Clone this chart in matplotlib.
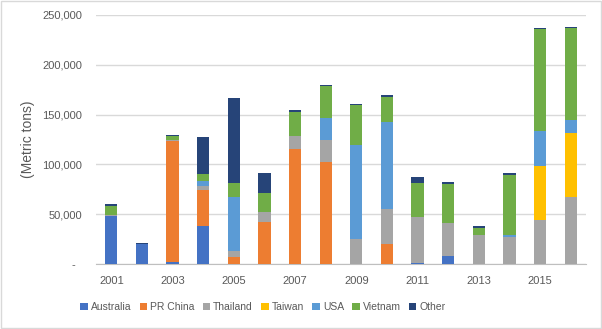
import matplotlib

matplotlib.use("Agg")

import matplotlib.pyplot as plt
import numpy as np
from matplotlib.patches import Patch

plt.rcParams["font.family"] = ["Liberation Sans", "DejaVu Sans"]

years = list(range(2001, 2017))
australia = [48500, 20500, 2500, 38000, 0, 0, 0, 0, 0, 0, 1500, 8000, 0, 0, 0, 0]
pr_china = [0, 0, 120500, 36600, 6700, 42200, 115100, 102400, 0, 20400, 0, 0, 0, 0, 0, 0]
thailand = [500, 0, 1000, 4000, 6300, 10300, 13400, 22100, 25400, 34500, 45700, 33500, 29400, 26800, 44200, 67300]
taiwan = [0, 0, 0, 0, 0, 0, 0, 0, 0, 0, 0, 0, 0, 0, 54500, 64500]
usa = [0, 0, 0, 5000, 54300, 0, 0, 22100, 93800, 87400, 0, 0, 0, 2600, 35100, 12800]
vietnam = [9500, 0, 4700, 6800, 14300, 18800, 24100, 31800, 40400, 25700, 34400, 39100, 6700, 60300, 102100, 92600]
other = [1500, 1000, 1000, 37400, 85400, 19800, 2000, 1300, 1400, 1400, 5400, 1400, 2000, 1400, 1000, 1100]

series = [
    ("Australia", australia, "#4472C4"),
    ("PR China", pr_china, "#ED7D31"),
    ("Thailand", thailand, "#A5A5A5"),
    ("Taiwan", taiwan, "#FFC000"),
    ("USA", usa, "#5B9BD5"),
    ("Vietnam", vietnam, "#70AD47"),
    ("Other", other, "#264478"),
]

text_color = "#595959"

fig = plt.figure(figsize=(6.02, 3.29), dpi=100)
ax = fig.add_axes([96 / 602, 65 / 329, 490 / 602, 249 / 329])

x = np.arange(len(years))
bottom = np.zeros(len(years))
for name, values, color in series:
    vals = np.asarray(values, dtype=float)
    ax.bar(x, vals, bottom=bottom, width=0.4, color=color, label=name, zorder=3)
    bottom += vals

ax.set_xlim(-0.5, len(years) - 0.5)
ax.set_ylim(0, 250000)
ax.set_yticks(np.arange(0, 250001, 50000))
ax.set_yticklabels(["-  "] + [f"{v:,}" for v in range(50000, 250001, 50000)])
ax.set_xticks(x[::2])
ax.set_xticklabels([str(y) for y in years[::2]])
ax.tick_params(axis="both", length=0, colors=text_color, labelsize=8)
ax.tick_params(axis="y", pad=10)
ax.tick_params(axis="x", pad=9)
ax.grid(axis="y", color="#D9D9D9", linewidth=1.0, zorder=0)
for side in ("top", "right", "left"):
    ax.spines[side].set_visible(False)
ax.spines["bottom"].set_color("#BFBFBF")
ax.set_ylabel("(Metric tons)", color=text_color, fontsize=10, labelpad=5)

handles = [Patch(facecolor=c, label=n) for n, _, c in series]
fig.legend(
    handles=handles,
    loc="center",
    bbox_to_anchor=(263 / 602, 1 - 307 / 329),
    ncol=7,
    frameon=False,
    fontsize=7.5,
    labelcolor=text_color,
    handlelength=0.7,
    handleheight=0.7,
    handletextpad=0.3,
    columnspacing=0.8,
)

fig.patches.append(
    plt.Rectangle((0.002, 0.003), 0.996, 0.994, transform=fig.transFigure,
                  fill=False, edgecolor="#D9D9D9", linewidth=1.0)
)

fig.savefig("out.png", dpi=100)
